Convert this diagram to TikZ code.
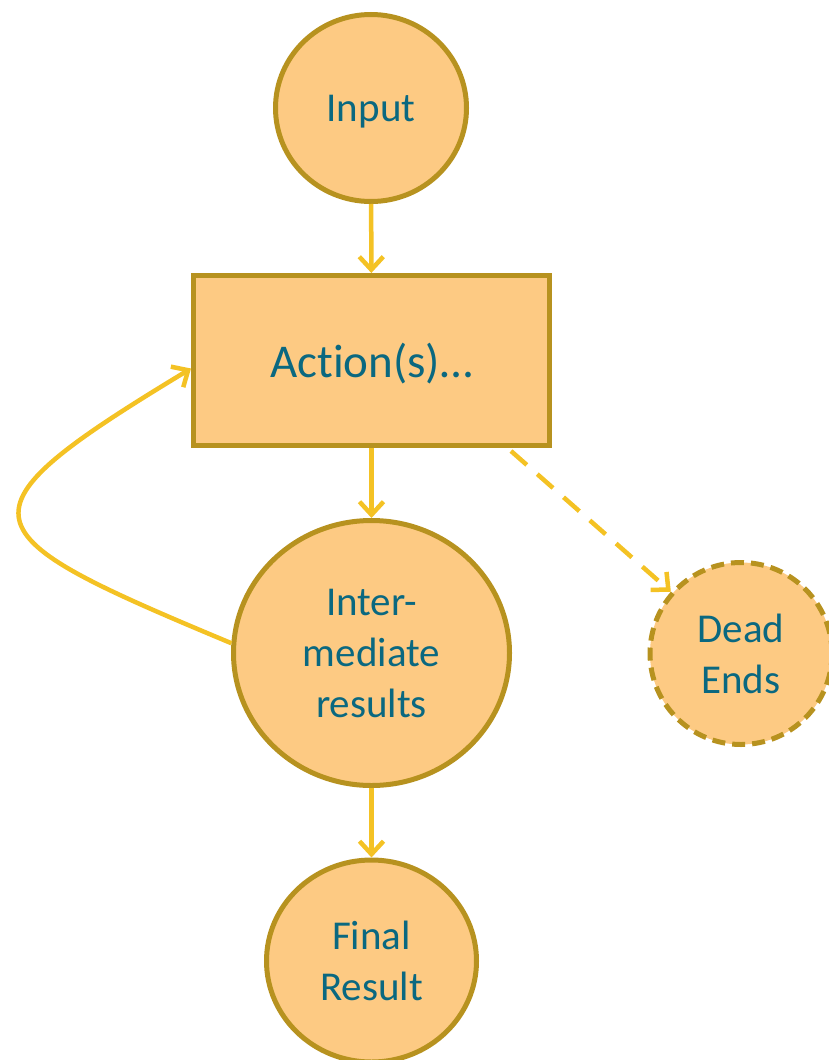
\documentclass[tikz,border=0pt]{standalone}
\usepackage{fontspec}
\setmainfont{Carlito}[Ligatures=NoCommon]
\usetikzlibrary{arrows.meta,shapes.geometric}
\definecolor{nodefill}{RGB}{253,202,131}
\definecolor{nodeline}{RGB}{183,146,31}
\definecolor{flowline}{RGB}{244,194,36}
\definecolor{labeltext}{RGB}{10,104,128}
\tikzset{
  blob/.style={ellipse, draw=nodeline, fill=nodefill, line width=5pt,
    text=labeltext, align=center, inner sep=0pt,
    font=\fontsize{41}{51}\selectfont},
  actbox/.style={rectangle, draw=nodeline, fill=nodefill, line width=5pt,
    text=labeltext, align=center, inner sep=0pt,
    minimum width=356pt, minimum height=170pt,
    font=\fontsize{47}{56}\selectfont},
  flow/.style={draw=flowline, line width=4.5pt,
    -{Straight Barb[length=13pt, width=24pt, line width=4.5pt]}},
}
\begin{document}
\begin{tikzpicture}[x=1pt, y=-1pt]
  \useasboundingbox (0,0) rectangle (828,1060);

  \node[blob, minimum width=191pt, minimum height=187pt,
        text height=34pt, text depth=8pt] (input) at (371,108) {Input};
  \node[actbox, text height=42pt, text depth=8.5pt] (act) at (371.5,360.5)
    {Act\kern0pt ion(s)…};
  \node[blob, minimum width=276pt, minimum height=265pt] (inter) at (371.5,653)
    {Inter-\\mediate\\results};
  \node[blob, minimum width=182pt, minimum height=182pt,
        dash pattern=on 13pt off 7pt] (dead) at (741,653.5) {Dead\\Ends};
  \node[blob, minimum width=210pt, minimum height=202pt] (final) at (371.5,961)
    {Final\\Result};

  \coordinate (deadstart) at ([xshift=-41pt, yshift=-3pt]act.south east);
  \coordinate (loopend) at ([yshift=-8pt]act.west);

  \draw[flow] (input) -- (act);
  \draw[flow] (act) -- (inter);
  \draw[flow] (inter) -- (final);
  \draw[flow, dash pattern=on 21pt off 14pt] (deadstart) -- (dead);
  \draw[flow] (inter.176) .. controls (-35,532) and (-53,516) .. (loopend);
\end{tikzpicture}
\end{document}
